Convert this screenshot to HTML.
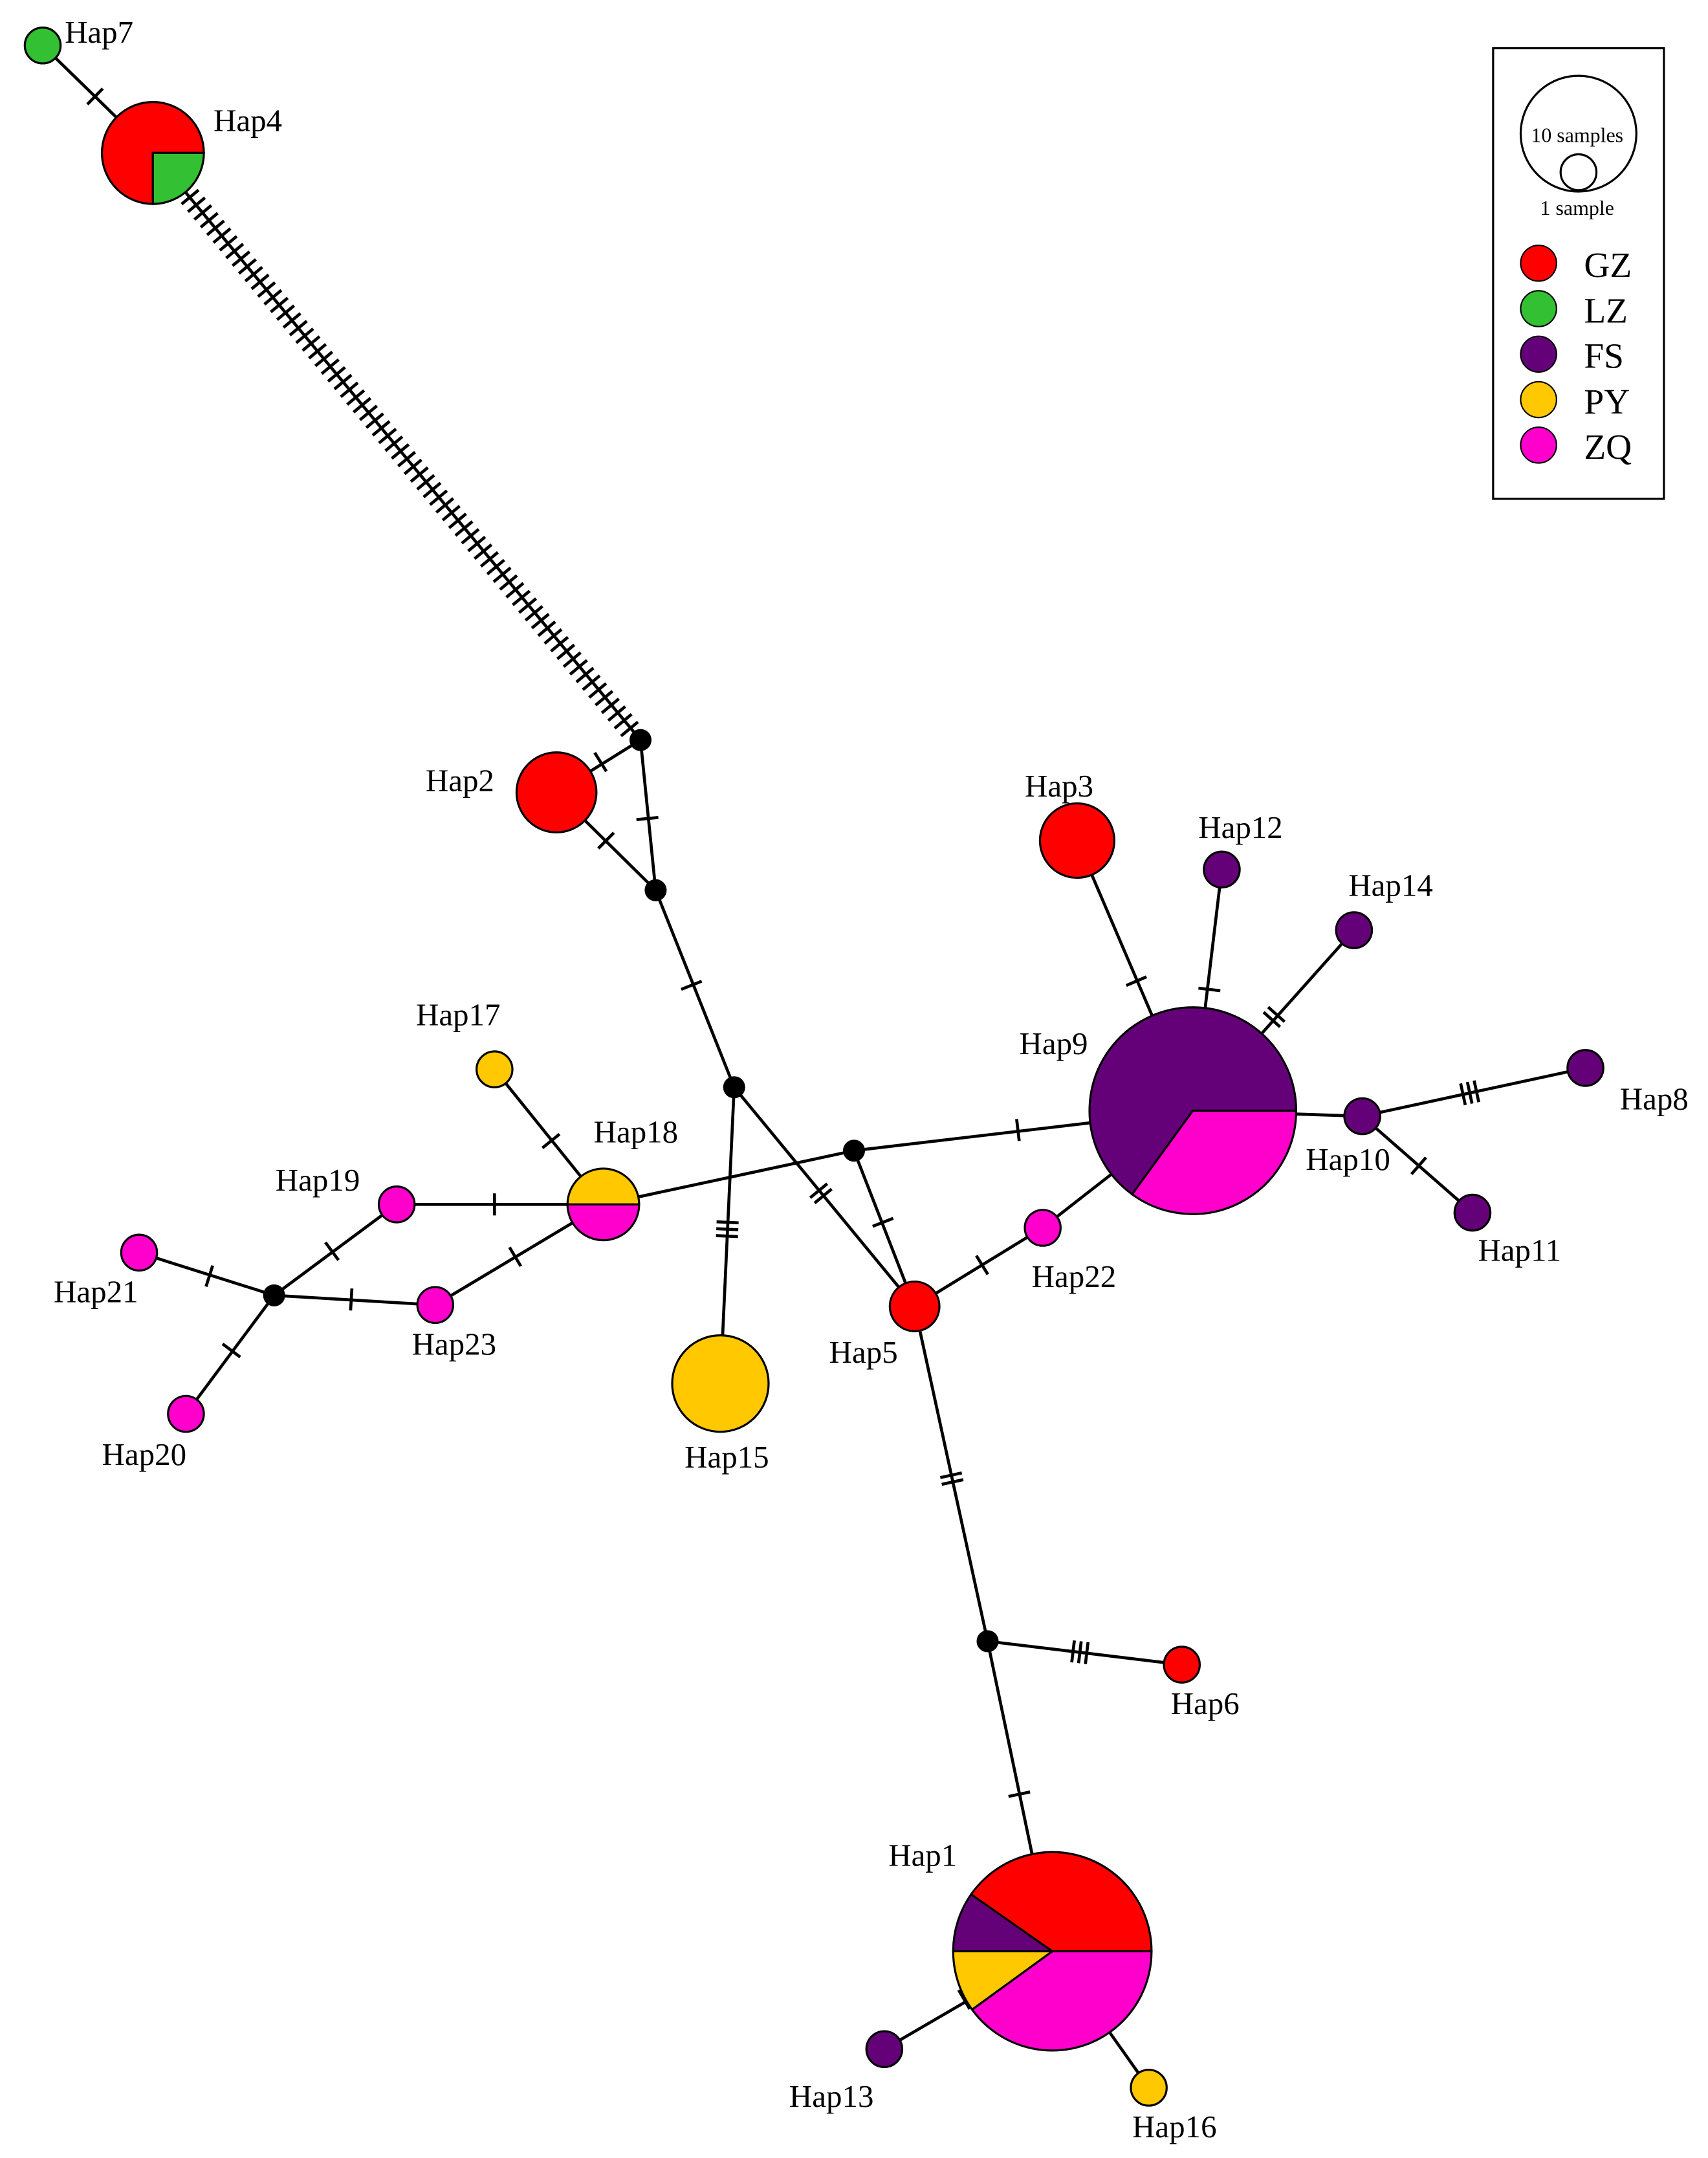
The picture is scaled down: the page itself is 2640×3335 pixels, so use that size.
<!DOCTYPE html>
<html><head><meta charset="utf-8">
<style>
html,body{margin:0;padding:0;background:#fff;}
svg{display:block;}
text{font-family:"Liberation Serif",serif;fill:#000;}
</style></head>
<body>
<svg id="s" width="2640" height="3335" viewBox="0 0 1240 1566" preserveAspectRatio="none" xmlns="http://www.w3.org/2000/svg">
<g id="lines" stroke="#000" stroke-width="2.2" fill="none"></g>
<g id="nodes" stroke="#000" stroke-width="1.5"></g>
<g font-size="23">
<text x="47" y="31">Hap7</text>
<text x="155" y="95">Hap4</text>
<text x="309" y="574">Hap2</text>
<text x="744" y="578">Hap3</text>
<text x="870" y="608">Hap12</text>
<text x="979" y="650">Hap14</text>
<text x="740" y="765">Hap9</text>
<text x="1176" y="805">Hap8</text>
<text x="948" y="849">Hap10</text>
<text x="1073" y="915">Hap11</text>
<text x="749" y="934">Hap22</text>
<text x="302" y="744">Hap17</text>
<text x="431" y="829">Hap18</text>
<text x="200" y="864">Hap19</text>
<text x="39" y="945">Hap21</text>
<text x="299" y="983">Hap23</text>
<text x="74" y="1063">Hap20</text>
<text x="602" y="989">Hap5</text>
<text x="497" y="1065">Hap15</text>
<text x="850" y="1244">Hap6</text>
<text x="645" y="1354">Hap1</text>
<text x="573" y="1529">Hap13</text>
<text x="822" y="1551">Hap16</text>
</g>
<g>
<rect x="1084" y="35" width="124" height="327" fill="none" stroke="#000" stroke-width="1.5"/>
<circle cx="1146" cy="97" r="42" fill="none" stroke="#000" stroke-width="1.5"/>
<circle cx="1146" cy="125" r="13" fill="#fff" stroke="#000" stroke-width="1.5"/>
<text x="1145" y="103" font-size="15" text-anchor="middle">10 samples</text>
<text x="1145" y="156" font-size="15" text-anchor="middle">1 sample</text>
<circle cx="1117" cy="191" r="13" fill="#ff0000" stroke="#000"/>
<circle cx="1117" cy="224" r="13" fill="#33c033" stroke="#000"/>
<circle cx="1117" cy="257" r="13" fill="#640078" stroke="#000"/>
<circle cx="1117" cy="290" r="13" fill="#ffc800" stroke="#000"/>
<circle cx="1117" cy="323" r="13" fill="#ff00cc" stroke="#000"/>
<text x="1150" y="201" font-size="26">GZ</text>
<text x="1150" y="234" font-size="26">LZ</text>
<text x="1150" y="267" font-size="26">FS</text>
<text x="1150" y="300" font-size="26">PY</text>
<text x="1150" y="333" font-size="26">ZQ</text>
</g>
</svg>
<script>
var NS="http://www.w3.org/2000/svg";
var L=document.getElementById("lines"),N=document.getElementById("nodes");
function el(p,t,a){var e=document.createElementNS(NS,t);for(var k in a)e.setAttribute(k,a[k]);p.appendChild(e);return e;}
function line(a,b){el(L,"line",{x1:a[0],y1:a[1],x2:b[0],y2:b[1]});}
function ticks(a,b,c,n,sp){sp=sp||5;var dx=b[0]-a[0],dy=b[1]-a[1],l=Math.hypot(dx,dy),ux=dx/l,uy=dy/l,px=-uy,py=ux,h=8;
 for(var i=0;i<n;i++){var o=(i-(n-1)/2)*sp,x=c[0]+ux*o,y=c[1]+uy*o;
 el(L,"line",{x1:x+px*h,y1:y+py*h,x2:x-px*h,y2:y-py*h});}}
function seg(a,b,c,n,sp){line(a,b);if(n)ticks(a,b,c,n,sp);}
var C={GZ:"#ff0000",LZ:"#33c033",FS:"#640078",PY:"#ffc800",ZQ:"#ff00cc"};
function circ(x,y,r,f){el(N,"circle",{cx:x,cy:y,r:r,fill:f});}
function black(x,y){el(N,"circle",{cx:x,cy:y,r:8,fill:"#000",stroke:"none"});}
function pie(x,y,r,sl){
 sl.forEach(function(s){var a0=s[0]*Math.PI/180,a1=s[1]*Math.PI/180;
 var x0=x+r*Math.cos(a0),y0=y+r*Math.sin(a0),x1=x+r*Math.cos(a1),y1=y+r*Math.sin(a1);
 var lg=(s[1]-s[0])>180?1:0;
 el(N,"path",{d:"M"+x+","+y+" L"+x0+","+y0+" A"+r+","+r+" 0 "+lg+" 1 "+x1+","+y1+" Z",fill:s[2]});});}
var H7=[31,33],H4=[111,111],A=[465,537],H2=[404,575],B=[476,646],Cn=[533,789],H15=[523,1004],H5=[664,948],D=[620,835],H9=[866,806],H18=[438,874];
seg(H7,H4,[69,70],1);
line(H4,A);
(function(){var a=[138,143],b=[457,529];var n=70;var dx=b[0]-a[0],dy=b[1]-a[1];
 for(var i=0;i<n;i++){var t=i/(n-1);ticks(H4,A,[a[0]+dx*t,a[1]+dy*t],1);}})();
seg(H2,A,[436,553],1);
seg(A,B,[470,594],1);
seg(H2,B,[440,610],1);
seg(B,Cn,[502,715],1);
seg(Cn,H15,[528,892],3);
seg(Cn,H5,[596,866],2);
seg(D,H5,[641,887],1);
seg(D,H9,[739,820],1);
seg(H18,D,null,0);
seg([782,610],H9,[825,712],1);
seg([887,631],H9,[878,718],1);
seg([983,675],H9,[925,738],2);
seg(H9,[989,810],null,0);
seg([989,810],[1151,775],[1067,793],3);
seg([989,810],[1069,880],[1030,846],1);
seg([757,891],H9,null,0);
seg(H5,[757,891],[713,918],1);
var E=[717,1191];
seg(H5,E,[691,1073],2);
seg(E,[858,1208],[784,1199],3);
seg(E,[764,1416],[740,1302],1);
seg([642,1487],[764,1416],[700,1451],1);
seg([834,1515],[764,1416],null,0);
seg([359,776],H18,[400,828],1);
seg([288,874],H18,[359,874],1);
seg([316,947],H18,[374,912],1);
var F=[199,940];
seg(F,[288,874],[241,908],1);
seg(F,[316,947],[255,943],1);
seg(F,[101,909],[152,926],1);
seg(F,[135,1026],[168,980],1);
circ(31,33,13,C.LZ);
pie(111,111,37,[[90,360,C.GZ],[0,90,C.LZ]]);
circ(404,575,29,C.GZ);
black(465,537);black(476,646);black(533,789);black(620,835);black(717,1191);black(199,940);
circ(523,1004,35,C.PY);
circ(664,948,18,C.GZ);
pie(866,806,75,[[126,360,C.FS],[0,126,C.ZQ]]);
circ(782,610,27,C.GZ);
circ(887,631,13,C.FS);circ(983,675,13,C.FS);circ(989,810,13,C.FS);circ(1151,775,13,C.FS);circ(1069,880,13,C.FS);
circ(757,891,13,C.ZQ);
circ(858,1208,13,C.GZ);
pie(764,1416,72,[[215,360,C.GZ],[180,215,C.FS],[144,180,C.PY],[0,144,C.ZQ]]);
circ(642,1487,13,C.FS);circ(834,1515,13,C.PY);
pie(438,874,26,[[180,360,C.PY],[0,180,C.ZQ]]);
circ(359,776,13,C.PY);circ(288,874,13,C.ZQ);circ(316,947,13,C.ZQ);circ(101,909,13,C.ZQ);circ(135,1026,13,C.ZQ);
</script>
</body></html>
